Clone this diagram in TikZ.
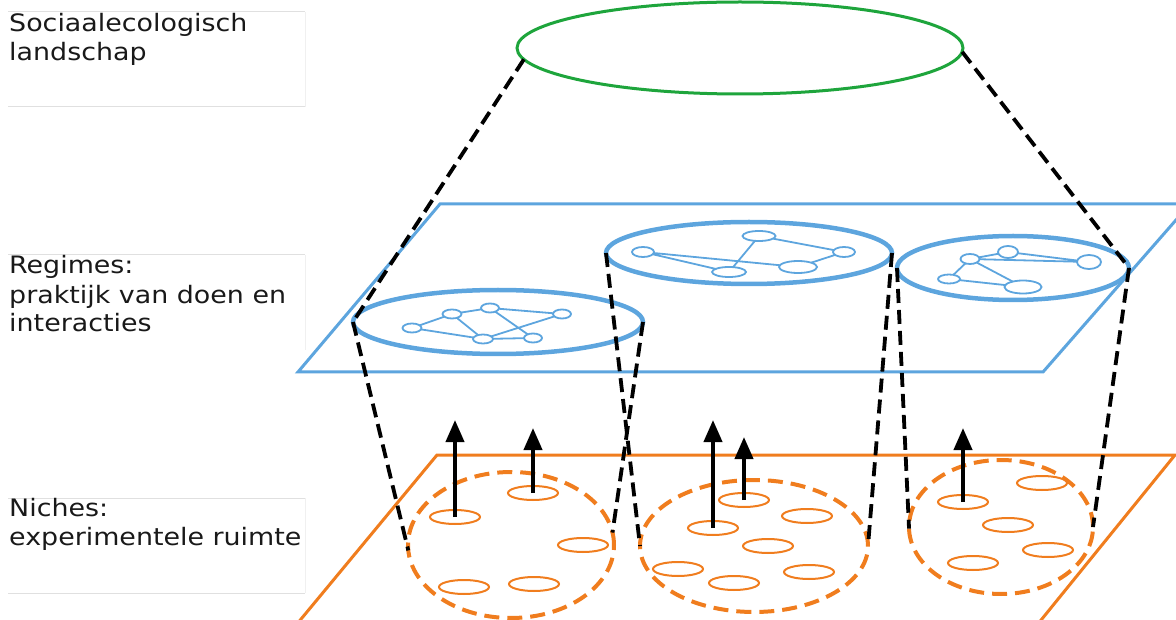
\documentclass[tikz,border=0pt]{standalone}
\usepackage{fontspec}
\newfontfamily\lblfont[FakeStretch=1.12]{DejaVu Sans}
\usetikzlibrary{shapes.geometric,arrows.meta}
\definecolor{landgreen}{RGB}{30,165,60}
\definecolor{regblue}{RGB}{93,165,222}
\definecolor{nicheorange}{RGB}{240,125,30}

\begin{document}
\begin{tikzpicture}[x=1pt,y=-1pt,
  oval/.style={ellipse, inner sep=0pt, outer sep=0pt},
  landscape/.style={oval, draw=landgreen, line width=3pt},
  regime/.style={oval, draw=regblue, line width=4.5pt},
  actor/.style={oval, draw=regblue, line width=1.8pt},
  tie/.style={regblue, line width=1.8pt},
  plane/.style={line width=3pt, line join=miter},
  niche/.style={oval, draw=nicheorange, line width=4pt, dash pattern=on 15pt off 8pt},
  experiment/.style={oval, draw=nicheorange, line width=2pt, minimum width=50pt, minimum height=14pt},
  link/.style={black, line width=3.8pt, dash pattern=on 14pt off 7pt},
  rise/.style={black, line width=4pt, -{Triangle[width=18pt,length=22pt]}},
  lbltext/.style={anchor=base west, align=left, inner sep=0pt,
    font=\lblfont\fontsize{24}{29}\selectfont, text=black!90},
  boxline/.style={black!12, line width=1pt}
]
\useasboundingbox (0,0) rectangle (1176,620);
\clip (0,0) rectangle (1176,620);

% label boxes on the left
\draw[boxline] (8,12) -- (305,12);
\draw[boxline] (8,107) -- (305,107);
\draw[boxline] (8,255) -- (305,255);
\draw[boxline] (8,498) -- (305,498);
\draw[boxline] (8,593) -- (305,593);
\draw[black!6, line width=1pt] (305,12) -- (305,107) (305,255) -- (305,350) (305,498) -- (305,593);

% labels, placed by the baseline of their last line
\node[lbltext] (tland) at (9,61) {Sociaalecologisch\\landschap};
\node[lbltext] (treg) at (9,332) {Regimes:\\praktijk van doen en\\interacties};
\node[lbltext] (tniche) at (9,545) {Niches:\\experimentele ruimte};

% the two planes
\draw[plane, regblue] (298,372) -- (440,204) -- (1190,204) -- (1043,372) -- cycle;
\draw[plane, nicheorange] (292,630) -- (437,455) -- (1175,455) -- (1033,630);

% landscape
\node[landscape, minimum width=446pt, minimum height=92pt] (land) at (740,48) {};

% regimes
\node[regime, minimum width=290pt, minimum height=64pt] (r1) at (498,322) {};
\node[regime, minimum width=286pt, minimum height=62pt] (r2) at (749,253) {};
\node[regime, minimum width=232pt, minimum height=64pt] (r3) at (1013,268) {};

% actor network in regime 1
\node[actor, minimum width=19pt, minimum height=9pt] (a1) at (412,328) {};
\node[actor, minimum width=19pt, minimum height=9pt] (b1) at (452,314) {};
\node[actor, minimum width=18pt, minimum height=9pt] (c1) at (490,308) {};
\node[actor, minimum width=18pt, minimum height=9pt] (d1) at (562,314) {};
\node[actor, minimum width=20pt, minimum height=9pt] (e1) at (483,339) {};
\node[actor, minimum width=18pt, minimum height=9pt] (f1) at (533,338) {};
\draw[tie] (a1) -- (b1) (a1) -- (e1) (b1) -- (c1) (b1) -- (e1)
  (c1) -- (d1) (c1) -- (f1) (e1) -- (f1) (e1) -- (d1);

% actor network in regime 2
\node[actor, minimum width=22pt, minimum height=10pt] (a2) at (643,252) {};
\node[actor, minimum width=33pt, minimum height=10pt] (b2) at (759,236) {};
\node[actor, minimum width=22pt, minimum height=10pt] (c2) at (844,252) {};
\node[actor, minimum width=34pt, minimum height=10pt] (d2) at (729,272) {};
\node[actor, minimum width=38pt, minimum height=12pt] (e2) at (798,267) {};
\draw[tie] (a2) -- (d2) (a2) -- (e2) (b2) -- (c2) (b2) -- (d2) (e2) -- (c2);

% actor network in regime 3
\node[actor, minimum width=19pt, minimum height=10pt] (a3) at (970,259) {};
\node[actor, minimum width=20pt, minimum height=12pt] (b3) at (1008,252) {};
\node[actor, minimum width=24pt, minimum height=14pt] (c3) at (1089,262) {};
\node[actor, minimum width=22pt, minimum height=9pt] (d3) at (949,279) {};
\node[actor, minimum width=37pt, minimum height=13pt] (e3) at (1023,287) {};
\draw[tie] (a3) -- (b3) (a3) -- (c3) (b3) -- (c3) (a3) -- (d3) (d3) -- (e3) (a3) -- (e3);

% niches
\node[niche, minimum width=206pt, minimum height=146pt] (n1) at (511,545) {};
\node[niche, minimum width=228pt, minimum height=132pt] (n2) at (754,546) {};
\node[niche, minimum width=184pt, minimum height=134pt] (n3) at (1001,527) {};

% experiments inside the niches
\node[experiment] (x11) at (455,517) {};
\node[experiment] (x12) at (533,493) {};
\node[experiment] (x13) at (583,545) {};
\node[experiment] (x14) at (464,587) {};
\node[experiment] (x15) at (534,584) {};

\node[experiment] (x21) at (744,500) {};
\node[experiment] (x22) at (807,516) {};
\node[experiment] (x23) at (713,528) {};
\node[experiment] (x24) at (768,546) {};
\node[experiment] (x25) at (678,569) {};
\node[experiment] (x26) at (809,572) {};
\node[experiment] (x27) at (734,583) {};

\node[experiment] (x31) at (963,502) {};
\node[experiment] (x32) at (1042,483) {};
\node[experiment] (x33) at (1008,525) {};
\node[experiment] (x34) at (1048,550) {};
\node[experiment] (x35) at (973,563) {};

% dashed links between the levels
\draw[link] (land.183) -- (r1.west);
\draw[link] (land.359) -- (r3.east);
\draw[link] (r1.west) -- (n1.183);
\draw[link] (r1.east) -- (n1.7);
\draw[link] (r2.west) -- (n2.west);
\draw[link] (r2.east) -- (n2.east);
\draw[link] (r3.west) -- (n3.181);
\draw[link] (r3.east) -- (n3.east);

% upward pressure from experiments
\coordinate (t11) at (455,420);
\coordinate (t12) at (533,428);
\coordinate (t23) at (713,420);
\coordinate (t21) at (744,437);
\coordinate (t31) at (963,428);
\draw[rise] (x11.center) -- (t11);
\draw[rise] (x12.center) -- (t12);
\draw[rise] (x23.center) -- (t23);
\draw[rise] (x21.center) -- (t21);
\draw[rise] (x31.center) -- (t31);
\end{tikzpicture}
\end{document}
